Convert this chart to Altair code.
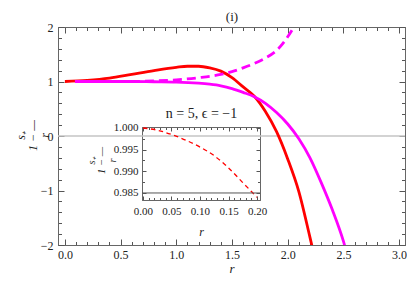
import altair as alt
import pandas as pd

# ---------------- data ----------------
red_r = [0.0, 0.2, 0.4, 0.6, 0.8, 1.0, 1.1, 1.2, 1.3, 1.4, 1.5, 1.6, 1.7, 1.8, 1.9, 2.0, 2.1, 2.2, 2.25]
red_v = [1.0, 1.02, 1.06, 1.13, 1.2, 1.26, 1.28, 1.28, 1.25, 1.19, 1.07, 0.9, 0.73, 0.45, 0.08, -0.42, -1.02, -1.86, -2.3]

mag_r = [0.09, 0.2, 0.4, 0.6, 0.8, 1.0, 1.2, 1.3, 1.4, 1.5, 1.6, 1.7, 1.8, 1.9, 2.0, 2.1, 2.2, 2.3, 2.4, 2.5, 2.55]
mag_v = [1.0, 1.0, 1.0, 1.0, 0.995, 0.99, 0.97, 0.95, 0.92, 0.87, 0.8, 0.72, 0.6, 0.43, 0.22, -0.05, -0.4, -0.85, -1.35, -1.93, -2.3]

magd_r = [0.09, 0.2, 0.4, 0.6, 0.8, 1.0, 1.2, 1.4, 1.5, 1.6, 1.7, 1.8, 1.9, 1.95, 2.0, 2.05, 2.1]
magd_v = [1.0, 1.0, 1.0, 1.0, 1.01, 1.03, 1.07, 1.13, 1.18, 1.25, 1.33, 1.43, 1.57, 1.68, 1.82, 1.98, 2.15]

inset_r = [0.0, 0.025, 0.05, 0.075, 0.1, 0.125, 0.15, 0.175, 0.2]
inset_v = [1.0, 0.9995, 0.9985, 0.9972, 0.9956, 0.9936, 0.9908, 0.9874, 0.984]

zero_line = [0.0]
inset_axis_line = [0.985]

x_major = [0.0, 0.5, 1.0, 1.5, 2.0, 2.5, 3.0]
x_minor = [round(i * 0.1, 1) for i in range(0, 31) if i % 5]
y_major = [-2, -1, 0, 1, 2]
y_minor = [round(-2 + i * 0.2, 1) for i in range(0, 21) if i % 5]

ix_major = [0.0, 0.05, 0.1, 0.15, 0.2]
ix_minor = [round(i * 0.01, 2) for i in range(0, 21) if i % 5]
iy_major = [0.985, 0.99, 0.995, 1.0]
iy_minor = [0.9875, 0.9925, 0.9975]

main_domain_x = [-0.062, 3.053]
main_domain_y = [-2, 2]
inset_domain_x = [-0.00175, 0.20526]
inset_domain_y = [0.98338, 1.00023]

W, H = 347, 218
IX0, IX1, IY0, IY1 = 84, 202, 100, 173
FONT = "Liberation Serif"
FRAME = "#666666"
TICK = "#555555"
TXT = "#222222"

xs_main = alt.Scale(domain=main_domain_x, nice=False, zero=False)
ys_main = alt.Scale(domain=main_domain_y, nice=False, zero=False)
xs_in = alt.Scale(domain=inset_domain_x, range=[IX0, IX1], nice=False, zero=False)
ys_in = alt.Scale(domain=inset_domain_y, range=[IY1, IY0], nice=False, zero=False)


def tick_axis(orient, offset, values, size, **kw):
    return alt.Axis(orient=orient, offset=offset, values=values, labels=False, ticks=True,
                    tickSize=size, tickColor=TICK, tickWidth=1, domain=True,
                    domainColor=FRAME, domainWidth=1, grid=False,
                    title=kw.pop("title", ""), **kw)


def label_axis(orient, offset, values, fmt, size, pad, **kw):
    return alt.Axis(orient=orient, offset=offset, values=values, format=fmt, ticks=False,
                    tickSize=0, domain=False, grid=False, labelPadding=pad,
                    labelFont=FONT, labelFontSize=size, labelColor=TXT,
                    labelFlush=False, labelOverlap=False,
                    titleFont=FONT, titleColor=TXT, titleFontWeight="normal", **kw)


def ghost(df, xs, ys, xaxis, yaxis):
    return alt.Chart(df).mark_line(opacity=0).encode(
        x=alt.X("r:Q", scale=xs, axis=xaxis), y=alt.Y("v:Q", scale=ys, axis=yaxis))


red_df = pd.DataFrame({"r": red_r, "v": red_v})
mag_df = pd.DataFrame({"r": mag_r, "v": mag_v})
magd_df = pd.DataFrame({"r": magd_r, "v": magd_v})
ins_df = pd.DataFrame({"r": inset_r, "v": inset_v})
zero_df = pd.DataFrame({"v": zero_line})
iline_df = pd.DataFrame({"r0": [inset_domain_x[0]], "r1": [inset_domain_x[1]], "v": inset_axis_line})

YTITLE = ["\u2003\u2002s\u208a", "1 \u2212 \u2014", "\u2003\u2002r"]

# ---------------- main plot ----------------
red = alt.Chart(red_df).mark_line(color="#ff0000", strokeWidth=2.8, clip=True,
                                  interpolate="monotone").encode(
    x=alt.X("r:Q", scale=xs_main, axis=label_axis(
        "bottom", 0, x_major, ".1f", 12, 4, title="r", titleFontStyle="italic",
        titleFontSize=13, titleX=W / 2, titleY=27, titleBaseline="alphabetic")),
    y=alt.Y("v:Q", scale=ys_main, axis=label_axis(
        "left", 0, y_major, "d", 12, 5, title=YTITLE,
        titleFontStyle="italic", titleFontSize=12, titleAngle=270, titleX=-38, titleY=108,
        titleAlign="center", titleBaseline="middle", titleLineHeight=12)),
    order=alt.Order("r:Q"),
)

mag = alt.Chart(mag_df).mark_line(color="#ff00ff", strokeWidth=2.8, clip=True,
                                  interpolate="monotone").encode(
    x=alt.X("r:Q", scale=xs_main, axis=tick_axis("top", -H, x_major, 6)),
    y=alt.Y("v:Q", scale=ys_main, axis=tick_axis("right", -W, y_major, 6)),
    order=alt.Order("r:Q"),
)

magd = alt.Chart(magd_df).mark_line(color="#ff00ff", strokeWidth=2.8, clip=True,
                                    strokeDash=[9, 5], interpolate="monotone").encode(
    x=alt.X("r:Q", scale=xs_main, axis=tick_axis(
        "bottom", -H, x_major, 6, title="(i)", titleFont=FONT, titleFontSize=13,
        titleFontWeight="normal", titleColor=TXT, titleX=W / 2, titleY=-7,
        titleBaseline="alphabetic")),
    y=alt.Y("v:Q", scale=ys_main, axis=tick_axis("left", -W, y_major, 6)),
    order=alt.Order("r:Q"),
)

g1 = ghost(red_df, xs_main, ys_main, tick_axis("top", -H, x_minor, 3.5),
           tick_axis("right", -W, y_minor, 3.5))
g2 = ghost(red_df, xs_main, ys_main, tick_axis("bottom", -H, x_minor, 3.5),
           tick_axis("left", -W, y_minor, 3.5))

zero = alt.Chart(zero_df).mark_rule(color="#c4c4c4", strokeWidth=1.5).encode(
    y=alt.Y("v:Q", scale=ys_main, axis=None))

main = alt.layer(zero, g1, g2, red, mag, magd).resolve_axis(x="independent", y="independent")

# ---------------- inset ----------------
ins = alt.Chart(ins_df).mark_line(color="#ff0000", strokeWidth=1.3, strokeDash=[4.5, 3.5],
                                  interpolate="monotone").encode(
    x=alt.X("r:Q", scale=xs_in, axis=label_axis(
        "bottom", -(H - IY1), ix_major, ".2f", 11, 5, title="r", titleFontStyle="italic",
        titleFontSize=12, titleX=(IX0 + IX1) / 2, titleY=35.5, titleBaseline="alphabetic")),
    y=alt.Y("v:Q", scale=ys_in, axis=label_axis(
        "left", -IX0, iy_major, ".3f", 11, 4, title=YTITLE,
        titleFontStyle="italic", titleFontSize=10.5, titleAngle=270, titleX=-51, titleY=133,
        titleAlign="center", titleBaseline="middle", titleLineHeight=10.5)),
    order=alt.Order("r:Q"),
)

iline = alt.Chart(iline_df).mark_rule(color="#555555", strokeWidth=1).encode(
    x=alt.X("r0:Q", scale=xs_in, axis=tick_axis("top", -IY1, ix_major, 4)),
    x2="r1:Q",
    y=alt.Y("v:Q", scale=ys_in, axis=tick_axis("right", -(W - IX0), iy_major, 4)),
)

iframe = ghost(ins_df, xs_in, ys_in,
               tick_axis("bottom", -(H - IY0), ix_major, 4, title="n = 5, \u03f5 = \u22121",
                         titleFont=FONT, titleFontSize=14, titleFontWeight="normal",
                         titleColor=TXT, titleX=(IX0 + IX1) / 2, titleY=-10,
                         titleBaseline="alphabetic"),
               tick_axis("left", -IX1, iy_major, 4))
ig1 = ghost(ins_df, xs_in, ys_in, tick_axis("top", -IY1, ix_minor, 2.5),
            tick_axis("right", -(W - IX0), iy_minor, 2.5))
ig2 = ghost(ins_df, xs_in, ys_in, tick_axis("bottom", -(H - IY0), ix_minor, 2.5),
            tick_axis("left", -IX1, iy_minor, 2.5))

inset = alt.layer(ins, iline, iframe, ig1, ig2).resolve_axis(x="independent", y="independent")

chart = alt.layer(main, inset).resolve_scale(
    x="independent", y="independent"
).resolve_axis(x="independent", y="independent").properties(
    width=W, height=H,
    autosize=alt.AutoSizeParams(type="none"),
    padding={"left": 50, "top": 19, "right": 2, "bottom": 30},
    background="white",
).configure_view(stroke=None).configure_axis(
    labelFont=FONT, titleFont=FONT, labelColor=TXT, titleColor=TXT
)

chart.save("out.html", embed_options={"renderer": "svg", "actions": False})
